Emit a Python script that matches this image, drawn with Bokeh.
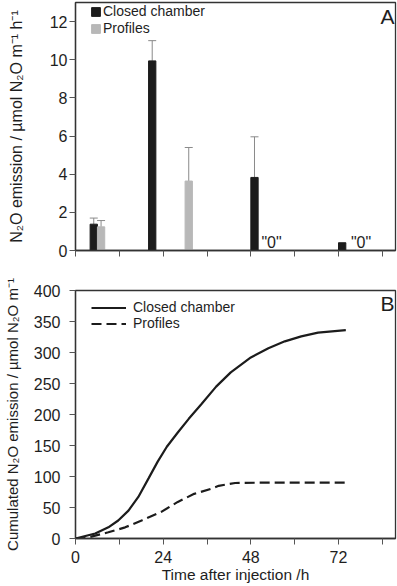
from bokeh.plotting import figure
from bokeh.layouts import column
from bokeh.models import (FixedTicker, Legend, LegendItem, Whisker, ColumnDataSource,
                          Label, TeeHead, Range1d)
from bokeh.core.properties import value
from bokeh.embed import file_html
from bokeh.resources import INLINE

# ---------------- data ----------------
# Panel A: N2O emission rates (bars)
closed_t = [5, 21, 49, 73]
closed_val = [1.38, 9.94, 3.83, 0.40]
closed_err = [0.32, 1.06, 2.13, 0.0]
profile_t = [7, 31]
profile_val = [1.24, 3.64]
profile_err = [0.33, 1.76]
zero_label_t = [50.9, 75.4]
zero_label_text = ['"0"', '"0"']

# Panel B: cumulated emission (curves)
cum_closed_t = [0, 5.4, 9, 11.7, 14.5, 17.2, 20, 22.5, 25, 28, 31, 34.5, 38.5, 42.5, 48,
                52.8, 57.3, 61.8, 66.4, 74]
cum_closed = [0, 8, 18, 29, 45, 67, 97, 124, 148, 171, 193, 217, 245, 268, 292,
              307, 318, 326, 332, 336]
cum_prof_t = [0, 2.7, 9, 13.6, 18.1, 23.5, 28, 32.5, 37, 39.2, 43.7, 50, 60, 74]
cum_prof = [0, 0.5, 10, 18, 29, 43, 59, 72, 80, 85, 89.5, 90, 90, 90]

x_ticks_all = [0, 12, 24, 36, 48, 60, 72, 84]
x_major_b = [0, 24, 48, 72]
x_minor_b = [12, 36, 60, 84]
ya_ticks = [0, 2, 4, 6, 8, 10, 12]
yb_ticks = [0, 50, 100, 150, 200, 250, 300, 350, 400]

X_MAX = 87.6
YA_MAX = 13
YB_MAX = 400

FONT = "Liberation Sans"
TXT = "#1e1e1e"
BLACK = "#1c1c1c"
GRAY = "#b8b8b8"
ERR = "#8a8a8a"
W = 397


def style(p):
    p.xgrid.visible = False
    p.ygrid.visible = False
    p.outline_line_color = "#333333"
    p.outline_line_width = 1.3
    p.background_fill_color = "white"
    p.border_fill_color = "white"
    for ax in (p.xaxis[0], p.yaxis[0]):
        ax.axis_line_color = "#333333"
        ax.axis_line_width = 1.3
        ax.major_tick_line_color = "#555555"
        ax.minor_tick_line_color = "#555555"
        ax.major_tick_in = 0
        ax.major_tick_out = 6
        ax.minor_tick_in = 0
        ax.minor_tick_out = 6
        ax.major_label_text_font = FONT
        ax.major_label_text_font_size = "16px"
        ax.major_label_text_color = TXT
        ax.axis_label_text_font = FONT
        ax.axis_label_text_font_size = "15px"
        ax.axis_label_text_font_style = "normal"
        ax.axis_label_text_color = TXT


# ---------------- Panel A ----------------
pa = figure(width=W, height=270, output_backend="svg", toolbar_location=None,
            x_range=Range1d(0, X_MAX), y_range=Range1d(0, YA_MAX),
            min_border_left=72, min_border_right=2, min_border_top=2, min_border_bottom=20)
style(pa)
pa.xaxis.ticker = FixedTicker(ticks=x_ticks_all)
pa.xaxis.major_label_overrides = {t: "" for t in x_ticks_all}
pa.xaxis.major_label_text_font_size = "0px"
pa.yaxis.ticker = FixedTicker(ticks=ya_ticks)
pa.yaxis.minor_tick_out = 0
pa.yaxis.major_label_standoff = 2
pa.yaxis.axis_label = "N\u2082O emission / \u00b5mol N\u2082O m\u207b\u00b9 h\u207b\u00b9"
pa.yaxis.axis_label_text_font_size = "16px"
pa.yaxis.axis_label_standoff = 22

src_c = ColumnDataSource(dict(x=closed_t, top=closed_val,
                              up=[v + e for v, e in zip(closed_val, closed_err)]))
src_p = ColumnDataSource(dict(x=profile_t, top=profile_val,
                              up=[v + e for v, e in zip(profile_val, profile_err)]))

for src in (src_c, src_p):
    w = Whisker(source=src, base="x", upper="up", lower="top", dimension="height",
                line_color=ERR, line_width=1,
                upper_head=TeeHead(size=8, line_color=ERR, line_width=1), lower_head=None)
    pa.add_layout(w)

r_c = pa.vbar(x="x", top="top", width=2.0, source=src_c, fill_color=BLACK, line_color=BLACK)
r_p = pa.vbar(x="x", top="top", width=2.0, source=src_p, fill_color=GRAY, line_color=GRAY)

pa.text(x=zero_label_t, y=[0] * len(zero_label_t), text=zero_label_text,
        text_font=value(FONT), text_font_size="16px", text_color=TXT,
        text_align="left", text_baseline="bottom")

leg_a = Legend(items=[LegendItem(label="Closed chamber", renderers=[r_c]),
                      LegendItem(label="Profiles", renderers=[r_p])],
               location=(15, 214), padding=0, margin=0, spacing=1,
               glyph_width=11, glyph_height=11, label_height=15, label_standoff=2,
               label_text_font=FONT, label_text_font_size="14px", label_text_color=TXT,
               border_line_color=None, background_fill_alpha=0)
pa.add_layout(leg_a)

pa.add_layout(Label(x=X_MAX, y=YA_MAX, text="A", text_align="right", text_baseline="top",
                    x_offset=-1, y_offset=-2, text_font=FONT, text_font_size="21px",
                    text_color=TXT))

# ---------------- Panel B ----------------
pb = figure(width=W, height=316, output_backend="svg", toolbar_location=None,
            x_range=Range1d(0, X_MAX), y_range=Range1d(0, YB_MAX),
            min_border_left=72, min_border_right=2, min_border_top=20, min_border_bottom=48)
style(pb)
pb.xaxis.ticker = FixedTicker(ticks=x_major_b, minor_ticks=x_minor_b)
pb.xaxis.major_label_standoff = 6
pb.xaxis.axis_label = "Time after injection /h"
pb.xaxis.axis_label_text_font_size = "15.5px"
pb.xaxis.axis_label_standoff = 0
pb.yaxis.ticker = FixedTicker(ticks=yb_ticks)
pb.yaxis.minor_tick_out = 0
pb.yaxis.major_label_standoff = 9
pb.yaxis.axis_label = "Cumulated N\u2082O emission / \u00b5mol N\u2082O m\u207b\u00b9"
pb.yaxis.axis_label_standoff = 10

l_c = pb.line(cum_closed_t, cum_closed, line_color=BLACK, line_width=2.2)
l_p = pb.line(cum_prof_t, cum_prof, line_color=BLACK, line_width=2.2, line_dash="10 5")

leg_b = Legend(items=[LegendItem(label="Closed chamber", renderers=[l_c]),
                      LegendItem(label="Profiles", renderers=[l_p])],
               location=(16, 207), padding=0, margin=0, spacing=0,
               glyph_width=35, glyph_height=15, label_height=15, label_standoff=7,
               label_text_font=FONT, label_text_font_size="14px", label_text_color=TXT,
               border_line_color=None, background_fill_alpha=0)
pb.add_layout(leg_b)

pb.add_layout(Label(x=X_MAX, y=YB_MAX, text="B", text_align="right", text_baseline="top",
                    x_offset=-1, y_offset=-1, text_font=FONT, text_font_size="21px",
                    text_color=TXT))

layout = column(pa, pb, spacing=0)
open("out.html", "w").write(file_html(layout, INLINE))
